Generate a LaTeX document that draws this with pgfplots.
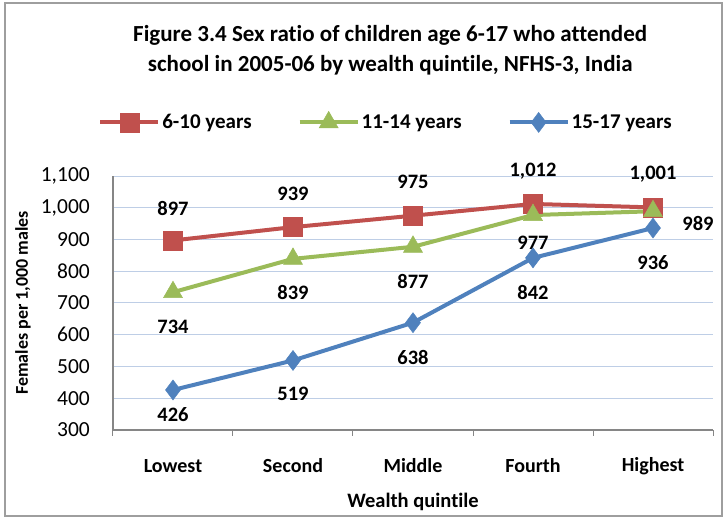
\documentclass[border=0pt]{standalone}
\usepackage{pgfplots}
\pgfplotsset{compat=1.18}
\usepackage{pgfplotstable}
\usepackage{fontspec}
\setmainfont{Carlito}[Ligatures=NoCommon]

\definecolor{cRed}{RGB}{192,80,77}
\definecolor{cGreen}{RGB}{155,187,89}
\definecolor{cBlue}{RGB}{79,129,189}
\definecolor{cGrid}{RGB}{190,206,230}
\definecolor{cAxis}{RGB}{134,134,134}

% x = quintile index, dy/dx = label offset (pt)
\pgfplotstableread{
x y dx dy
0 897 0 32
1 939 0 33
2 975 0 34
3 1012 0 33
4 1001 0 33
}\youngest
\pgfplotstableread{
x y dx dy
0 734 0 -35
1 839 0 -34
2 877 0 -35
3 977 0 -28
4 989 45 -12
}\middleage
\pgfplotstableread{
x y dx dy
0 426 0 -25
1 519 0 -33
2 638 0 -35
3 842 0 -35
4 936 0 -35
}\oldest

\begin{document}
\begin{tikzpicture}
\path[use as bounding box] (-113pt,-88pt) rectangle (613pt,430pt);
\draw[cAxis!80, line width=1.2pt] (-108pt,-86pt) rectangle (609pt,427pt);
\begin{axis}[
  at={(0,0)}, anchor=south west,
  scale only axis,
  width=600pt, height=254pt,
  clip=false,
  xmin=-0.5, xmax=4.5,
  ymin=300, ymax=1100,
  ytick={300,400,...,1100},
  xtick={0,...,4},
  xticklabels={Lowest,Second,Middle,Fourth,Highest},
  minor xtick={-0.5,0.5,...,4.5},
  tick align=outside,
  major tick length=0pt,
  minor tick length=6pt,
  minor tick style={cAxis, line width=1pt},
  axis x line*=bottom, axis y line*=left,
  axis line style={cAxis, line width=1.2pt, -},
  ymajorgrids,
  grid style={cGrid, line width=1pt},
  /pgf/number format/assume math mode=true,
  /pgf/number format/1000 sep={,},
  yticklabel style={anchor=east, inner sep=0pt, xshift=-23pt, font=\fontsize{21.5}{21.5}\selectfont},
  xticklabel style={anchor=center, inner sep=0pt, yshift=-36pt, font=\bfseries\fontsize{20}{20}\selectfont},
  title={Figure 3.4 Sex ratio of children age 6-17 who attended\\school in 2005-06 by wealth quintile, NFHS-3, India},
  title style={at={(rel axis cs:0.462,1.473)}, anchor=center, align=center,
    font=\bfseries\fontsize{23}{30}\selectfont},
  xlabel={Wealth quintile},
  xlabel style={at={(rel axis cs:0.5,-0.283)}, anchor=center, font=\bfseries\fontsize{20.5}{20.5}\selectfont},
  ylabel={Females per 1,000 males},
  ylabel style={at={(rel axis cs:-0.15,0.5)}, anchor=center, rotate=0, font=\bfseries\fontsize{18}{18}\selectfont},
  legend columns=3,
  legend style={at={(rel axis cs:0.455,1.213)}, anchor=center, draw=none, fill=none,
    font=\bfseries\fontsize{21}{21}\selectfont,
    /tikz/every even column/.append style={column sep=44pt}},
  legend image code/.code={\draw[mark repeat=2,mark phase=2] plot coordinates {(0pt,0pt) (29pt,0pt) (58pt,0pt)};},
  every axis plot/.append style={line width=4pt},
  nodes near coords,
  visualization depends on={\thisrow{dx} \as \ldx},
  visualization depends on={\thisrow{dy} \as \ldy},
  every node near coord/.append style={anchor=center, xshift=\ldx pt, yshift=\ldy pt,
    font=\bfseries\fontsize{20.5}{20.5}\selectfont, text=black},
]
\addplot[cRed, mark=square*, mark size=9.5pt, mark options={solid, line width=0.5pt}]
  table[x=x, y=y] {\youngest};
\addlegendentry{6-10 years}
\addplot[cGreen, mark=triangle*, mark size=11pt, mark options={solid, line width=0.5pt}]
  table[x=x, y=y] {\middleage};
\addlegendentry{11-14 years}
\addplot[cBlue, mark=diamond*, mark size=10pt, mark options={solid, line width=0.5pt}]
  table[x=x, y=y] {\oldest};
\addlegendentry{15-17 years}
\end{axis}
\end{tikzpicture}
\end{document}
